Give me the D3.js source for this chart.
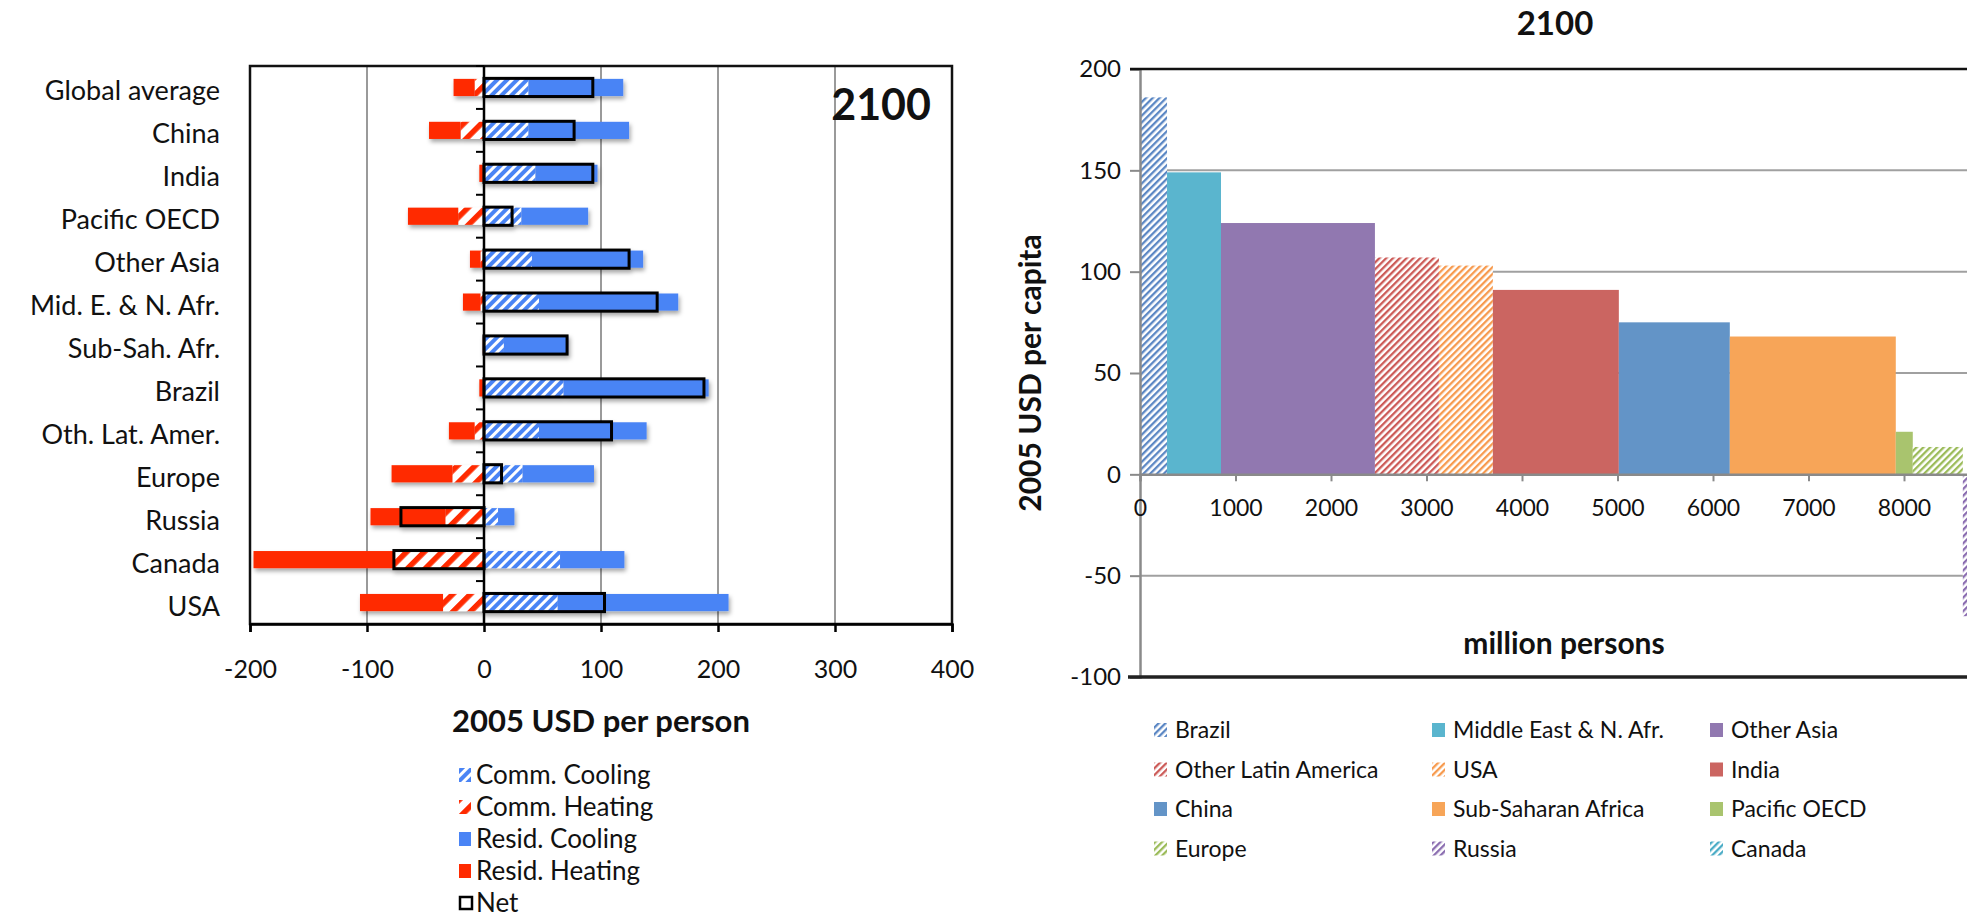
<!DOCTYPE html>
<html><head><meta charset="utf-8">
<script src="https://cdn.jsdelivr.net/npm/d3@7"></script>
<style>
html,body{margin:0;padding:0;background:#fff;}
svg{display:block;font-family:Lato,"Open Sans",sans-serif;}
</style></head><body>
<svg id="chart" width="1967" height="921"></svg>
<script>
// ---------- Left chart data (2005 USD per person, 2100) ----------
const categories = ["Global average","China","India","Pacific OECD","Other Asia","Mid. E. & N. Afr.","Sub-Sah. Afr.","Brazil","Oth. Lat. Amer.","Europe","Russia","Canada","USA"];
const commCooling  = [38, 38, 44, 32, 41, 47, 17, 68, 47, 33, 12, 65, 63];
const residCooling = [81, 86, 53, 57, 95, 119, 55, 124, 92, 61, 14, 55, 146];
const commHeating  = [-8, -20, -1, -22, -3, -3, 0, -1, -8, -27, -33, -77, -35];
const residHeating = [-18, -27, -3, -43, -9, -15, -1, -3, -22, -52, -64, -120, -71];
const netValues    = [93, 77, 93, 24, 124, 148, 71, 188, 109, 15, -71, -77, 103];
const leftTicks = [-200, -100, 0, 100, 200, 300, 400];
const leftLegend = ["Comm. Cooling","Comm. Heating","Resid. Cooling","Resid. Heating","Net"];

// ---------- Right chart data ----------
const regionNames = ["Brazil","Middle East & N. Afr.","Other Asia","Other Latin America","USA","India","China","Sub-Saharan Africa","Pacific OECD","Europe","Russia","Canada"];
const regionPop   = [283, 565, 1612, 670, 565, 1319, 1162, 1738, 178, 524, 150, 40];
const regionCost  = [186, 149, 124, 107, 103, 91, 75, 68, 21, 13.5, -70, -77];
const rightXTicks = [0,1000,2000,3000,4000,5000,6000,7000,8000];
const rightYTicks = [-100,-50,0,50,100,150,200];

// styles
const regionColor = ["#5b87c4","#5ab5ce","#9178b0","#cc5a57","#f79a4e","#cb6561","#6394c7","#f7a558","#a9c46e","#9bbb59","#8a6cb0","#4bacc6"];
const regionHatched = [true,false,false,true,true,false,false,false,false,true,true,true];
const BLUE = "#4a84f5", RED = "#ff2a00";
const fmt = d => String(d);

const svg = d3.select("#chart");
svg.append("rect").attr("width",1967).attr("height",921).attr("fill","#fff");
const defs = svg.append("defs");
function hatch(id, color, period, lineW){
  const p = defs.append("pattern").attr("id", id).attr("patternUnits","userSpaceOnUse")
    .attr("width", period).attr("height", period).attr("patternTransform","rotate(45)");
  p.append("rect").attr("width", period).attr("height", period).attr("fill","#fff");
  p.append("rect").attr("width", lineW).attr("height", period).attr("fill", color);
}
hatch("hBlue", BLUE, 7, 4);
hatch("hRed", RED, 12.5, 5.5);
regionColor.forEach((c,i)=>{ if(regionHatched[i]) hatch("hr"+i, c, 4.8, 2.3); });
const f = defs.append("filter").attr("id","sh").attr("x","-10%").attr("y","-40%").attr("width","130%").attr("height","200%");
f.append("feDropShadow").attr("dx",1.5).attr("dy",3).attr("stdDeviation",2).attr("flood-color","#000").attr("flood-opacity",0.35);

// ================= LEFT CHART =================
const x = d3.scaleLinear().domain([-200,400]).range([250,952]);
const y = d3.scaleBand().domain(categories).range([66,624]).paddingInner(0.6).paddingOuter(0.3);
const L = svg.append("g");

// gridlines
L.selectAll("line.grid").data(leftTicks.filter(v=>v!==-200 && v!==400 && v!==0)).join("line")
  .attr("x1",d=>x(d)).attr("x2",d=>x(d)).attr("y1",66).attr("y2",624)
  .attr("stroke","#9a9a9a").attr("stroke-width",2);

// bars
const clip = v => Math.max(v, -200);
categories.forEach((c,i)=>{
  const g = L.append("g").attr("filter","url(#sh)");
  const yy = y(c), h = y.bandwidth();
  const segs = [
    {a:0, b:commCooling[i], fill:"url(#hBlue)"},
    {a:commCooling[i], b:commCooling[i]+residCooling[i], fill:BLUE},
    {a:commHeating[i], b:0, fill:"url(#hRed)"},
    {a:clip(commHeating[i]+residHeating[i]), b:commHeating[i], fill:RED}
  ];
  segs.forEach(s=>{
    if (Math.abs(s.b-s.a) < 0.01) return;
    g.append("rect").attr("x", x(Math.min(s.a,s.b))).attr("width", Math.abs(x(s.b)-x(s.a)))
      .attr("y", yy).attr("height", h).attr("fill", s.fill);
  });
  const n = netValues[i];
  g.append("rect").attr("x", x(Math.min(0,n))).attr("width", Math.abs(x(n)-x(0)))
    .attr("y", yy-0.5).attr("height", h+1).attr("fill","none").attr("stroke","#000").attr("stroke-width",3);
});

// frame
L.append("rect").attr("x",250).attr("y",66).attr("width",702).attr("height",558)
  .attr("fill","none").attr("stroke","#111").attr("stroke-width",2.5);

// zero axis with category-boundary ticks
L.append("line").attr("x1",x(0)).attr("x2",x(0)).attr("y1",66).attr("y2",624).attr("stroke","#000").attr("stroke-width",2.5);
d3.range(categories.length+1).forEach(k=>{
  const yy = y.range()[0] + k*y.step();
  L.append("line").attr("x1",x(0)-8).attr("x2",x(0)).attr("y1",yy).attr("y2",yy).attr("stroke","#000").attr("stroke-width",2);
});

// category labels via axis
const yAxis = L.append("g").attr("transform",`translate(${x(0)},0)`)
  .call(d3.axisLeft(y).tickSize(0).tickPadding(x(0)-220));
yAxis.select(".domain").remove();
yAxis.selectAll("text").attr("font-size",27).attr("fill","#111").attr("font-family","Lato").attr("dy","0.48em");

// bottom axis
const xAxis = L.append("g").attr("transform","translate(0,624)")
  .call(d3.axisBottom(x).tickValues(leftTicks).tickSize(8).tickPadding(28).tickFormat(fmt));
xAxis.select(".domain").attr("stroke","#000").attr("stroke-width",2.5);
xAxis.selectAll(".tick line").attr("stroke","#000").attr("stroke-width",2.5);
xAxis.selectAll("text").attr("font-size",25).attr("fill","#111").attr("font-family","Lato");

L.append("text").attr("x",601).attr("y",732).attr("text-anchor","middle")
  .attr("font-size",31).attr("font-weight","bold").attr("fill","#111").text("2005 USD per person");
L.append("text").attr("x",931).attr("y",120).attr("text-anchor","end")
  .attr("font-size",43).attr("font-weight","bold").attr("fill","#111").text("2100");

// left legend
const legFills = ["url(#hBlue)","url(#hRed)",BLUE,RED,"none"];
leftLegend.forEach((t,i)=>{
  const cy = 775 + i*32;
  if (i<4) L.append("rect").attr("x",459).attr("y",cy-7).attr("width",12).attr("height",14).attr("fill",legFills[i]);
  else L.append("rect").attr("x",460).attr("y",cy-6).attr("width",12).attr("height",12).attr("fill","none").attr("stroke","#000").attr("stroke-width",2.5);
  L.append("text").attr("x",476).attr("y",cy).attr("dy","0.35em").attr("font-size",26).attr("fill","#111").text(t);
});

// ================= RIGHT CHART =================
const xr = d3.scaleLinear().domain([0,9000]).range([1140, 1140+95.5*9]);
const yr = d3.scaleLinear().domain([-100,200]).range([677,69]);
const R = svg.append("g");

// gridlines
R.selectAll("line.g").data([150,100,50,-50]).join("line")
  .attr("x1",1140).attr("x2",1967).attr("y1",d=>yr(d)).attr("y2",d=>yr(d))
  .attr("stroke","#a0a0a0").attr("stroke-width",2);

// bars
const starts = [];
regionPop.reduce((acc,p,i)=>{ starts[i]=acc; return acc+p; },0);
regionNames.forEach((n,i)=>{
  const v = regionCost[i];
  R.append("rect").attr("x", xr(starts[i])).attr("width", xr(starts[i]+regionPop[i])-xr(starts[i]))
    .attr("y", yr(Math.max(0,v))).attr("height", Math.abs(yr(v)-yr(0)))
    .attr("fill", regionHatched[i] ? `url(#hr${i})` : regionColor[i]);
});

// axes
const ryAxis = R.append("g").attr("transform","translate(1140,0)")
  .call(d3.axisLeft(yr).tickValues(rightYTicks).tickSize(10).tickPadding(9).tickFormat(fmt));
ryAxis.select(".domain").attr("stroke","#8a8a8a").attr("stroke-width",2.5);
ryAxis.selectAll(".tick line").attr("stroke","#8a8a8a").attr("stroke-width",2);
ryAxis.selectAll("text").attr("font-size",24).attr("fill","#111").attr("font-family","Lato");

const rxAxis = R.append("g").attr("transform",`translate(0,${yr(0)})`)
  .call(d3.axisBottom(xr).tickValues(rightXTicks).tickSize(7).tickPadding(18).tickFormat(fmt));
rxAxis.select(".domain").attr("stroke","#8a8a8a").attr("stroke-width",2.5);
rxAxis.selectAll(".tick line").attr("stroke","#8a8a8a").attr("stroke-width",2);
rxAxis.selectAll("text").attr("font-size",23).attr("fill","#111").attr("font-family","Lato");

// frame lines top/bottom
R.append("line").attr("x1",1130).attr("x2",1967).attr("y1",yr(200)).attr("y2",yr(200)).attr("stroke","#111").attr("stroke-width",2.5);
R.append("line").attr("x1",1128).attr("x2",1967).attr("y1",yr(-100)).attr("y2",yr(-100)).attr("stroke","#222").attr("stroke-width",3.5);

R.append("text").attr("x",1555).attr("y",35).attr("text-anchor","middle")
  .attr("font-size",33).attr("font-weight","bold").attr("fill","#111").text("2100");
R.append("text").attr("x",1564).attr("y",654).attr("text-anchor","middle")
  .attr("font-size",30).attr("font-weight","bold").attr("fill","#111").text("million persons");
R.append("text").attr("transform","translate(1041,373) rotate(-90)").attr("text-anchor","middle")
  .attr("font-size",30).attr("font-weight","bold").attr("fill","#111").text("2005 USD per capita");

// right legend
const colX = [1154, 1432, 1710];
regionNames.forEach((n,i)=>{
  const cx = colX[i%3], cy = 730 + Math.floor(i/3)*39.5;
  R.append("rect").attr("x",cx).attr("y",cy-7).attr("width",13).attr("height",14)
    .attr("fill", regionHatched[i] ? `url(#hr${i})` : regionColor[i]);
  R.append("text").attr("x",cx+21).attr("y",cy).attr("dy","0.35em").attr("font-size",23).attr("fill","#111").text(n);
});
</script></body></html>
